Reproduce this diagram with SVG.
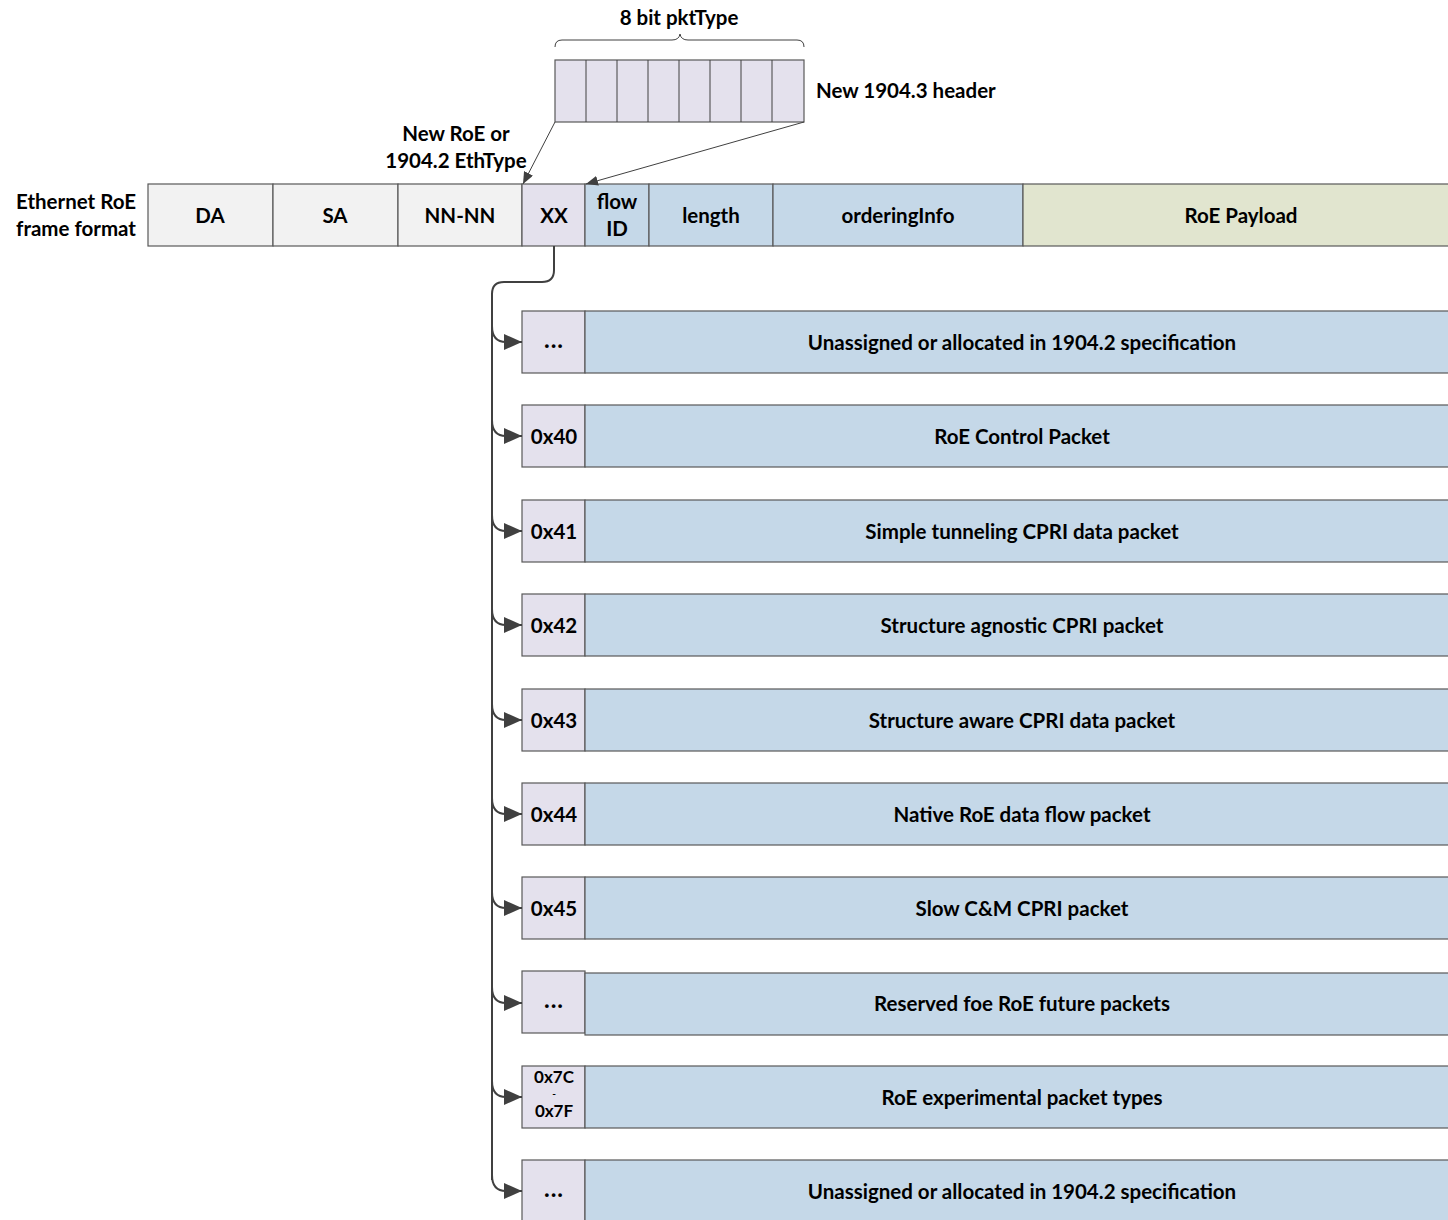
<svg xmlns="http://www.w3.org/2000/svg" width="1448" height="1220" viewBox="0 0 1448 1220">
<style>
text{font-family:Lato,"Liberation Sans",sans-serif;font-weight:bold;font-size:20.5px;fill:#000;text-anchor:middle;dominant-baseline:central}
.d{font-size:24px;letter-spacing:1px}
.g{fill:#f2f2f2;stroke:#595959;stroke-width:1.2}
.p{fill:#e4e1ed;stroke:#595959;stroke-width:1.2}
.b{fill:#c5d8e8;stroke:#595959;stroke-width:1.2}
.y{fill:#e1e5cf;stroke:#595959;stroke-width:1.2}
.c{fill:none;stroke:#404040;stroke-width:2}
.t{fill:none;stroke:#404040;stroke-width:1}
</style>
<defs>
<marker id="ab" markerWidth="18" markerHeight="16" refX="18" refY="8" orient="auto" markerUnits="userSpaceOnUse"><path d="M0,0 L18,8 L0,16 Z" fill="#404040"/></marker>
<marker id="as" markerWidth="12" markerHeight="10" refX="12" refY="5" orient="auto" markerUnits="userSpaceOnUse"><path d="M0,0 L12,5 L0,10 Z" fill="#404040"/></marker>
</defs>
<g id="label-8bit"><text x="679" y="17">8 bit pktType</text></g>
<g id="brace"><path class="t" d="M555,47 Q555,40 562,40 L672,40 Q679,40 680,34 Q681,40 688,40 L797,40 Q804,40 804,47"/></g>
<g id="header1904-3">
<rect class="p" x="555" y="60" width="249" height="62"/>
<line class="t" x1="586" y1="60" x2="586" y2="122"/>
<line class="t" x1="617" y1="60" x2="617" y2="122"/>
<line class="t" x1="648" y1="60" x2="648" y2="122"/>
<line class="t" x1="679" y1="60" x2="679" y2="122"/>
<line class="t" x1="710" y1="60" x2="710" y2="122"/>
<line class="t" x1="741" y1="60" x2="741" y2="122"/>
<line class="t" x1="772" y1="60" x2="772" y2="122"/>
<text x="816" y="90" style="text-anchor:start">New 1904.3 header</text>
</g>
<g id="label-ethtype"><text x="456" y="133">New RoE or</text><text x="456" y="160">1904.2 EthType</text></g>
<g id="label-frame"><text x="76" y="201">Ethernet RoE</text><text x="76" y="228">frame format</text></g>
<g id="frame">
<g id="f-da"><rect class="g" x="148" y="184" width="125" height="62"/><text x="210" y="215">DA</text></g>
<g id="f-sa"><rect class="g" x="273" y="184" width="125" height="62"/><text x="335" y="215">SA</text></g>
<g id="f-nn"><rect class="g" x="398" y="184" width="124" height="62"/><text x="460" y="215">NN-NN</text></g>
<g id="f-xx"><rect class="p" x="522" y="184" width="63" height="62"/><text x="554" y="215">XX</text></g>
<g id="f-flow"><rect class="b" x="585" y="184" width="64" height="62"/><text x="617" y="201">flow</text><text x="617" y="228">ID</text></g>
<g id="f-len"><rect class="b" x="649" y="184" width="124" height="62"/><text x="711" y="215">length</text></g>
<g id="f-ord"><rect class="b" x="773" y="184" width="250" height="62"/><text x="898" y="215">orderingInfo</text></g>
<g id="f-pay"><rect class="y" x="1023" y="184" width="440" height="62"/><text x="1241" y="215">RoE Payload</text></g>
</g>
<g id="rows">
<g id="r1"><rect class="p" x="522" y="311" width="63" height="62"/><rect class="b" x="585" y="311" width="880" height="62"/><text class="d" x="554" y="338">...</text><text x="1022" y="342">Unassigned or allocated in 1904.2 specification</text></g>
<g id="r2"><rect class="p" x="522" y="405" width="63" height="62"/><rect class="b" x="585" y="405" width="880" height="62"/><text x="554" y="436">0x40</text><text x="1022" y="436">RoE Control Packet</text></g>
<g id="r3"><rect class="p" x="522" y="500" width="63" height="62"/><rect class="b" x="585" y="500" width="880" height="62"/><text x="554" y="531">0x41</text><text x="1022" y="531">Simple tunneling CPRI data packet</text></g>
<g id="r4"><rect class="p" x="522" y="594" width="63" height="62"/><rect class="b" x="585" y="594" width="880" height="62"/><text x="554" y="625">0x42</text><text x="1022" y="625">Structure agnostic CPRI packet</text></g>
<g id="r5"><rect class="p" x="522" y="689" width="63" height="62"/><rect class="b" x="585" y="689" width="880" height="62"/><text x="554" y="720">0x43</text><text x="1022" y="720">Structure aware CPRI data packet</text></g>
<g id="r6"><rect class="p" x="522" y="783" width="63" height="62"/><rect class="b" x="585" y="783" width="880" height="62"/><text x="554" y="814">0x44</text><text x="1022" y="814">Native RoE data flow packet</text></g>
<g id="r7"><rect class="p" x="522" y="877" width="63" height="62"/><rect class="b" x="585" y="877" width="880" height="62"/><text x="554" y="908">0x45</text><text x="1022" y="908">Slow C&amp;M CPRI packet</text></g>
<g id="r8"><rect class="p" x="522" y="971" width="63" height="62"/><rect class="b" x="585" y="973" width="880" height="62"/><text class="d" x="554" y="998">...</text><text x="1022" y="1003">Reserved foe RoE future packets</text></g>
<g id="r9"><rect class="p" x="522" y="1066" width="63" height="62"/><rect class="b" x="585" y="1066" width="880" height="62"/><text x="554" y="1076.5" style="font-size:17px">0x7C</text><text x="554" y="1093" style="font-size:10px">-</text><text x="554" y="1110.5" style="font-size:17px">0x7F</text><text x="1022" y="1097">RoE experimental packet types</text></g>
<g id="r10"><rect class="p" x="522" y="1160" width="63" height="62"/><rect class="b" x="585" y="1160" width="880" height="62"/><text class="d" x="554" y="1187">...</text><text x="1022" y="1191">Unassigned or allocated in 1904.2 specification</text></g>
</g>
<g id="connectors">
<line class="t" x1="555" y1="122" x2="523" y2="184" marker-end="url(#as)"/>
<line class="t" x1="804" y1="122" x2="586" y2="184" marker-end="url(#as)"/>
<path class="c" d="M554,246 L554,270 Q554,282 542,282 L504,282 Q492,282 492,294 L492,1180"/>
<path class="c" d="M492,326 Q492,342 506,342 L522,342" marker-end="url(#ab)"/>
<path class="c" d="M492,420 Q492,436 506,436 L522,436" marker-end="url(#ab)"/>
<path class="c" d="M492,515 Q492,531 506,531 L522,531" marker-end="url(#ab)"/>
<path class="c" d="M492,609 Q492,625 506,625 L522,625" marker-end="url(#ab)"/>
<path class="c" d="M492,704 Q492,720 506,720 L522,720" marker-end="url(#ab)"/>
<path class="c" d="M492,798 Q492,814 506,814 L522,814" marker-end="url(#ab)"/>
<path class="c" d="M492,892 Q492,908 506,908 L522,908" marker-end="url(#ab)"/>
<path class="c" d="M492,987 Q492,1003 506,1003 L522,1003" marker-end="url(#ab)"/>
<path class="c" d="M492,1081 Q492,1097 506,1097 L522,1097" marker-end="url(#ab)"/>
<path class="c" d="M492,1175 Q492,1191 506,1191 L522,1191" marker-end="url(#ab)"/>
</g>
</svg>
